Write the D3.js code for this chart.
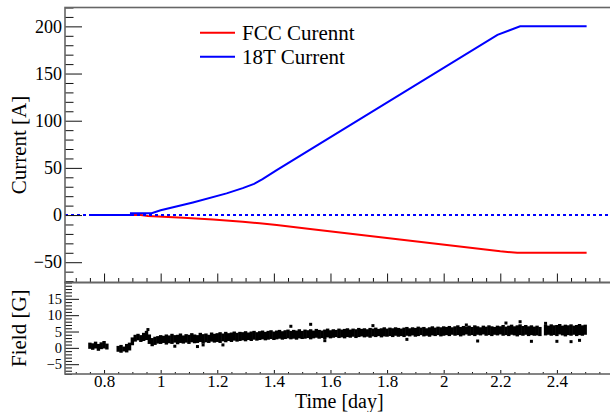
<!DOCTYPE html>
<html>
<head>
<meta charset="utf-8">
<script src="https://cdn.jsdelivr.net/npm/d3@7"></script>
<style>
html,body{margin:0;padding:0;background:#fff;}
svg{display:block;}
text{font-family:"Liberation Serif","Times New Roman",serif;fill:#000;}
</style>
</head>
<body>
<svg id="chart" width="610" height="412"></svg>
<script>
// ---------- data ----------
const seriesNames = ["FCC Curennt", "18T Current"];
const fccTime  = [0.75, 0.93, 0.955, 1.08, 1.185, 1.29, 1.35, 1.41, 1.528, 1.845, 2.2, 2.26, 2.505];
const fccValue = [0, 0, -1, -2.8, -4.6, -7, -8.8, -10.6, -14.8, -25.9, -38.4, -40, -40];
const t18Time  = [0.75, 0.895, 0.895, 0.968, 1.0, 1.114, 1.233, 1.29, 1.33, 1.36, 1.41, 2.19, 2.27, 2.505];
const t18Value = [0, 0, 2, 2, 5, 13.4, 23, 28.5, 33, 38, 47.6, 191, 200, 200];

const fieldTime = [0.75,0.76,0.77,0.78,0.79,0.80,0.81,
 0.85,0.86,0.87,0.88,0.89,
 0.90,0.91,0.92,0.93,0.94,0.95,0.96,0.97,0.98,0.99,
 1.00,1.01,1.02,1.03,1.04,1.05,1.06,1.07,1.08,1.09,
 1.10,1.11,1.12,1.13,1.14,1.15,1.16,1.17,1.18,1.19,
 1.20,1.21,1.22,1.23,1.24,1.25,1.26,1.27,1.28,1.29,
 1.30,1.31,1.32,1.33,1.34,1.35,1.36,1.37,1.38,1.39,
 1.40,1.41,1.42,1.43,1.44,1.45,1.46,1.47,1.48,1.49,
 1.50,1.51,1.52,1.53,1.54,1.55,1.56,1.57,1.58,1.59,
 1.60,1.61,1.62,1.63,1.64,1.65,1.66,1.67,1.68,1.69,
 1.70,1.71,1.72,1.73,1.74,1.75,1.76,1.77,1.78,1.79,
 1.80,1.81,1.82,1.83,1.84,1.85,1.86,1.87,1.88,1.89,
 1.90,1.91,1.92,1.93,1.94,1.95,1.96,1.97,1.98,1.99,
 2.00,2.01,2.02,2.03,2.04,2.05,2.06,2.07,2.08,2.09,
 2.10,2.11,2.12,2.13,2.14,2.15,2.16,2.17,2.18,2.19,
 2.20,2.21,2.22,2.23,2.24,2.25,2.26,2.27,2.28,2.29,
 2.30,2.31,2.32,2.33,2.34,
 2.36,2.37,2.38,2.39,2.40,2.41,2.42,2.43,2.44,2.45,2.46,2.47,2.48,2.49,2.50];
const fieldLow = [-0.3,-0.6,-0.2,-0.9,-0.4,-0.2,-0.5,
 -1.2,-1.5,-1.1,-1.4,-0.8,
 0.8,1.9,2.3,1.8,2.1,2.4,1.2,0.5,0.9,1.3,
 1.2,1.5,1.0,1.4,1.2,1.6,1.1,1.5,1.3,1.6,
 1.2,1.7,1.4,1.5,1.8,1.3,1.7,1.5,1.9,1.6,
 1.8,1.5,2.0,1.7,2.1,1.8,2.2,1.9,2.1,2.3,
 2.0,2.4,2.1,2.5,2.2,2.4,2.6,2.3,2.5,2.7,
 2.4,2.6,2.8,2.5,2.7,2.9,2.6,2.8,2.5,2.9,
 2.7,2.8,3.0,2.6,2.9,3.1,2.8,3.0,2.7,3.2,
 2.9,3.1,3.3,3.0,3.2,2.9,3.3,3.1,3.4,3.0,
 3.3,3.5,3.2,3.4,3.1,3.5,3.3,3.6,3.2,3.5,
 3.4,3.6,3.3,3.7,3.4,3.6,3.3,3.7,3.5,3.8,
 3.4,3.6,3.9,3.5,3.7,3.4,3.8,3.6,3.9,3.5,
 3.7,3.9,3.6,4.0,3.7,3.9,3.5,3.8,4.1,3.7,
 3.9,3.6,4.0,3.8,4.1,3.7,3.9,3.6,4.0,3.8,
 4.1,3.7,3.9,3.6,4.0,3.8,3.5,3.9,3.7,4.0,
 3.6,3.9,3.7,3.8,3.6,
 3.8,4.0,3.7,3.9,3.6,4.1,3.8,3.5,3.9,3.7,4.0,3.6,3.9,3.7,4.0];
const fieldHigh = [1.6,1.4,1.9,1.2,1.7,2.1,1.3,
 0.6,0.9,0.4,1.2,1.6,
 3.2,4.0,4.3,3.9,4.6,5.2,4.1,3.0,3.4,3.6,
 3.9,3.7,4.1,3.8,4.3,3.9,4.0,4.4,3.8,4.2,
 4.0,4.5,4.1,3.9,4.6,4.2,4.4,4.0,4.7,4.3,
 4.5,4.8,4.4,4.9,4.5,4.7,5.0,4.6,4.9,4.8,
 5.1,4.7,5.0,5.2,4.8,5.1,5.3,4.9,5.2,5.4,
 5.0,5.3,5.5,5.1,5.4,5.6,5.2,5.5,5.3,5.7,
 5.2,5.6,5.4,5.7,5.3,5.8,5.5,5.3,5.6,5.9,
 5.4,5.7,5.5,5.9,5.6,5.8,6.0,5.6,5.9,5.7,
 6.1,5.8,6.0,5.7,6.1,5.9,6.2,5.8,6.0,6.3,
 5.9,6.2,6.0,6.3,6.1,5.9,6.2,6.4,6.0,6.3,
 6.1,6.5,6.2,6.4,6.0,6.3,6.6,6.2,6.5,6.3,
 6.6,6.4,6.7,6.3,6.6,6.9,6.4,6.7,6.5,6.8,
 6.4,6.9,6.6,6.3,6.8,6.5,6.9,6.6,6.4,6.8,
 6.6,7.0,6.5,6.8,7.1,6.6,6.9,7.2,6.7,7.0,
 6.6,6.9,6.5,6.8,6.4,
 7.1,6.8,7.2,6.9,7.0,7.3,6.8,7.1,6.9,7.2,6.8,7.0,7.3,6.9,7.1];
const outlierTime  = [0.955, 1.05, 1.13, 1.15, 1.22, 1.46, 1.53, 1.58, 1.75, 1.87, 2.08, 2.12, 2.22, 2.27, 2.31, 2.36, 2.40, 2.45, 2.48];
const outlierValue = [5.6, 0.5, 0.4, 0.9, 0.9, 6.6, 7.2, 2.2, 6.8, 2.6, 7.0, 2.1, 7.6, 8.0, 2.0, 7.5, 2.0, 1.9, 2.3];

const currentTicks = [-50, 0, 50, 100, 150, 200];
const fieldTicks = [-5, 0, 5, 10, 15];
const timeTicks = [0.8, 1, 1.2, 1.4, 1.6, 1.8, 2, 2.2, 2.4];

// ---------- layout ----------
const L = 65, R = 613.5, T = 7.5, MID = 282.5, B = 374;
const svg = d3.select("#chart");

const x = d3.scaleLinear().domain([0.662, 2.6]).range([L, R]);
const yC = d3.scaleLinear().domain([-71.5, 220]).range([MID, T]);
const yF = d3.scaleLinear().domain([-8, 20]).range([B, MID]);

const cMinor = d3.range(-70, 221, 10).filter(v => !currentTicks.includes(v));
const fMinor = d3.range(-8, 21, 1).filter(v => !fieldTicks.includes(v));
const tMinor = d3.range(0.7, 2.6, 0.05).map(v => +v.toFixed(2)).filter(v => !timeTicks.some(t => Math.abs(t - v) < 1e-6));

function styleAxis(g, fs) {
  g.select(".domain").remove();
  g.selectAll("line").attr("stroke", "#111").attr("stroke-width", 1);
  g.selectAll("text").attr("font-family", "Liberation Serif, serif").attr("font-size", fs).attr("fill", "#000");
}

// ---------- data marks ----------
const line = d3.line().x(d => x(d[0])).y(d => yC(d[1]));
svg.append("path").datum(fccTime.map((t, i) => [t, fccValue[i]]))
  .attr("d", line).attr("fill", "none").attr("stroke", "#ff0000").attr("stroke-width", 2);
svg.append("path").datum(t18Time.map((t, i) => [t, t18Value[i]]))
  .attr("d", line).attr("fill", "none").attr("stroke", "#0000ff").attr("stroke-width", 2);
// zero reference line
svg.append("line").attr("x1", L).attr("x2", R).attr("y1", yC(0)).attr("y2", yC(0))
  .attr("stroke", "#0000ff").attr("stroke-width", 2).attr("stroke-dasharray", "3,3");

// field scatter band
svg.append("g").selectAll("rect").data(fieldTime).join("rect")
  .attr("x", d => x(d) - 1.7).attr("width", 3.4)
  .attr("y", (d, i) => yF(fieldHigh[i]))
  .attr("height", (d, i) => yF(fieldLow[i]) - yF(fieldHigh[i]))
  .attr("fill", "#000");
svg.append("g").selectAll("rect").data(outlierTime).join("rect")
  .attr("x", d => x(d) - 1.5).attr("width", 3)
  .attr("y", (d, i) => yF(outlierValue[i]) - 1.5).attr("height", 3)
  .attr("fill", "#000");

// ---------- axes ----------
// top panel y
svg.append("g").attr("transform", `translate(${L},0)`)
  .call(d3.axisLeft(yC).tickValues(currentTicks).tickSizeInner(-17).tickSizeOuter(0).tickPadding(3))
  .call(g => styleAxis(g, 18));
svg.append("g").attr("transform", `translate(${L},0)`)
  .call(d3.axisLeft(yC).tickValues(cMinor).tickSizeInner(-8.5).tickSizeOuter(0).tickFormat(""))
  .call(g => styleAxis(g, 18));
// top panel x (no labels)
svg.append("g").attr("transform", `translate(0,${MID})`)
  .call(d3.axisBottom(x).tickValues(timeTicks).tickSizeInner(-9).tickSizeOuter(0).tickFormat(""))
  .call(g => styleAxis(g, 18));
svg.append("g").attr("transform", `translate(0,${MID})`)
  .call(d3.axisBottom(x).tickValues(tMinor).tickSizeInner(-4.5).tickSizeOuter(0).tickFormat(""))
  .call(g => styleAxis(g, 18));
// bottom panel y
svg.append("g").attr("transform", `translate(${L},0)`)
  .call(d3.axisLeft(yF).tickValues(fieldTicks).tickSizeInner(-14).tickSizeOuter(0).tickPadding(3))
  .call(g => styleAxis(g, 14.5));
svg.append("g").attr("transform", `translate(${L},0)`)
  .call(d3.axisLeft(yF).tickValues(fMinor).tickSizeInner(-7).tickSizeOuter(0).tickFormat(""))
  .call(g => styleAxis(g, 14.5));
// bottom panel x
svg.append("g").attr("transform", `translate(0,${B})`)
  .call(d3.axisBottom(x).tickValues(timeTicks).tickSizeInner(-4).tickSizeOuter(0).tickPadding(1).tickFormat(d3.format("")))
  .call(g => styleAxis(g, 17));
svg.append("g").attr("transform", `translate(0,${B})`)
  .call(d3.axisBottom(x).tickValues(tMinor).tickSizeInner(-2).tickSizeOuter(0).tickFormat(""))
  .call(g => styleAxis(g, 17));

// ---------- frames ----------
const frame = svg.append("g").attr("fill", "none").attr("stroke", "#666").attr("stroke-width", 1.6);
frame.append("rect").attr("x", L).attr("y", T).attr("width", R - L).attr("height", MID - T);
frame.append("rect").attr("x", L).attr("y", MID).attr("width", R - L).attr("height", B - MID);

// ---------- titles ----------
svg.append("text").attr("transform", `translate(26,${(T + MID) / 2}) rotate(-90)`)
  .attr("text-anchor", "middle").attr("font-size", 21).text("Current [A]");
svg.append("text").attr("transform", `translate(26,${(MID + B) / 2}) rotate(-90)`)
  .attr("text-anchor", "middle").attr("font-size", 21).text("Field [G]");
svg.append("text").attr("x", (L + R) / 2).attr("y", 408.3)
  .attr("text-anchor", "middle").attr("font-size", 20).text("Time [day]");

// ---------- legend ----------
const legColors = ["#ff0000", "#0000ff"];
const leg = svg.append("g");
seriesNames.forEach((name, i) => {
  const yy = 32.7 + i * 24;
  leg.append("line").attr("x1", 200).attr("x2", 235).attr("y1", yy).attr("y2", yy)
    .attr("stroke", legColors[i]).attr("stroke-width", 2);
  leg.append("text").attr("x", 242).attr("y", yy + 6.8).attr("font-size", 21).text(name);
});
</script>
</body>
</html>
